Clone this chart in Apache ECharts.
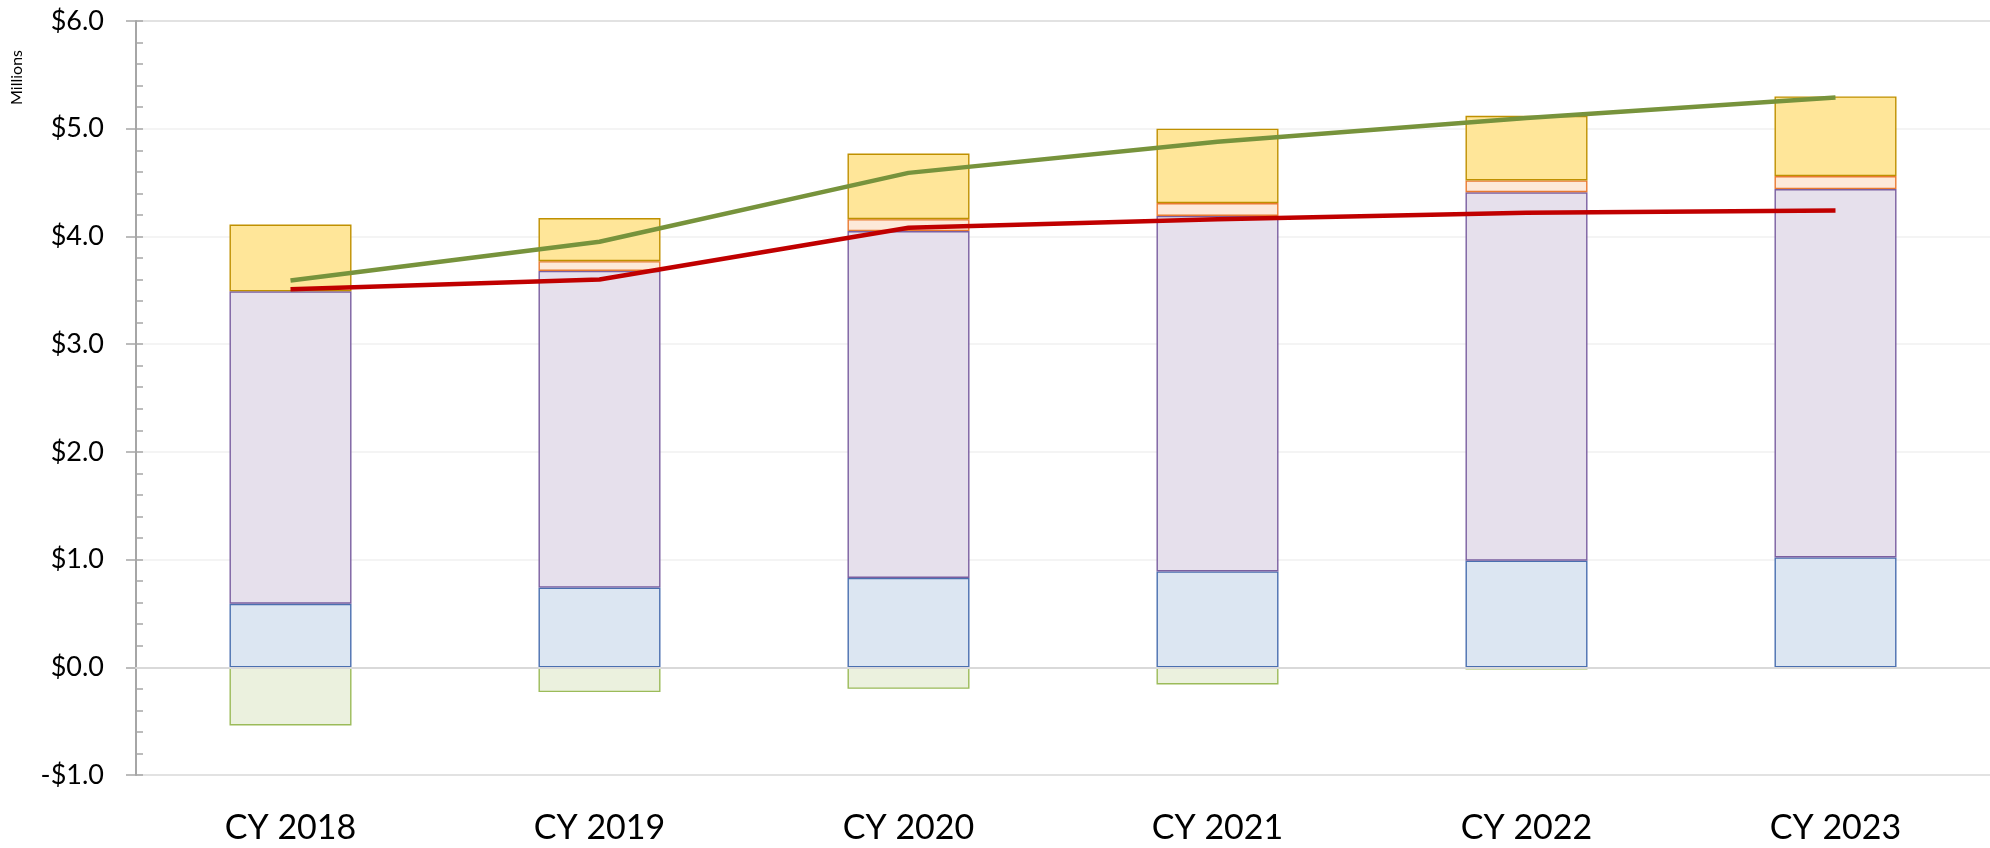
<!DOCTYPE html>
<html>
<head>
<meta charset="utf-8">
<script src="https://cdn.jsdelivr.net/npm/echarts@6/dist/echarts.min.js"></script>
<style>
  html, body { margin: 0; padding: 0; background: #fff; }
  #chart { width: 1990px; height: 848px; }
</style>
</head>
<body>
<div id="chart"></div>
<script>
var years = ['CY 2018', 'CY 2019', 'CY 2020', 'CY 2021', 'CY 2022', 'CY 2023'];

// stacked pieces, in $ millions
var blueBase   = [0.59, 0.74, 0.83, 0.89, 0.99, 1.02];
var purplePart = [2.90, 2.94, 3.22, 3.30, 3.42, 3.42];
var peachPart  = [null, 0.09, 0.11, 0.12, 0.11, 0.12];
var goldPart   = [0.62, 0.40, 0.61, 0.69, 0.60, 0.74];
var greenNeg   = [-0.54, -0.23, -0.20, -0.16, -0.02, -0.01];

// lines
var greenLine = [3.59, 3.95, 4.59, 4.88, 5.10, 5.29];
var redLine   = [3.51, 3.60, 4.08, 4.16, 4.22, 4.24];

var chart = echarts.init(document.getElementById('chart'));

function barPiece(name, data, fill, border) {
    return {
        name: name,
        type: 'bar',
        stack: 'total',
        barWidth: 122,
        data: data,
        itemStyle: { color: fill, borderColor: border, borderWidth: 1.4 },
        emphasis: { disabled: true }
    };
}

var option = {
    animation: false,
    grid: { left: 136, right: 0, top: 21, bottom: 73, containLabel: false },
    graphic: [{
        type: 'text',
        left: 9,
        top: 50,
        rotation: Math.PI / 2,
        style: { text: 'Millions', font: '16px Lato', fill: '#000' }
    }],
    xAxis: {
        type: 'category',
        data: years,
        z: 3,
        axisLine: { onZero: true, lineStyle: { color: '#D9D9D9', width: 2 } },
        axisTick: { show: false },
        axisLabel: { fontFamily: 'Lato', fontSize: 34, color: '#000', margin: 36 },
        position: 'bottom'
    },
    yAxis: [{
        type: 'value',
        min: -1,
        max: 6,
        interval: 1,
        axisLine: { show: true, lineStyle: { color: '#A6A6A6', width: 2 } },
        axisTick: { show: true, inside: false, length: 10, lineStyle: { color: '#A6A6A6', width: 1.5 } },
        axisLabel: {
            fontFamily: 'Lato', fontSize: 27, color: '#000', margin: 32,
            formatter: function (v) {
                return (v < 0 ? '-$' : '$') + Math.abs(v).toFixed(1);
            }
        },
        splitLine: {
            show: true,
            lineStyle: { color: ['#D9D9D9', '#D9D9D9', '#F0F0F0', '#F0F0F0', '#F0F0F0', '#F0F0F0', '#F0F0F0', '#D9D9D9'], width: 1.5 }
        }
    }, {
        type: 'value',
        min: -1,
        max: 6,
        interval: 0.2,
        position: 'left',
        axisLine: { show: false },
        axisTick: { show: true, inside: true, length: 7, lineStyle: { color: '#A6A6A6', width: 1.5 } },
        axisLabel: { show: false },
        splitLine: { show: false }
    }],
    series: [
        barPiece('A', blueBase, '#DCE6F2', '#4A6FB0'),
        barPiece('B', purplePart, '#E6E0EC', '#7B5FA0'),
        barPiece('C', peachPart, '#FDE9D9', '#E97A30'),
        barPiece('D', goldPart, '#FFE699', '#BF9000'),
        barPiece('E', greenNeg, '#EBF1DE', '#9BBB59'),
        {
            name: 'Total', type: 'line', data: greenLine, symbol: 'none', z: 5,
            lineStyle: { color: '#77933C', width: 4.5 }
        },
        {
            name: 'Red', type: 'line', data: redLine, symbol: 'none', z: 5,
            lineStyle: { color: '#C00000', width: 4.5 }
        }
    ]
};

chart.setOption(option);
</script>
</body>
</html>
